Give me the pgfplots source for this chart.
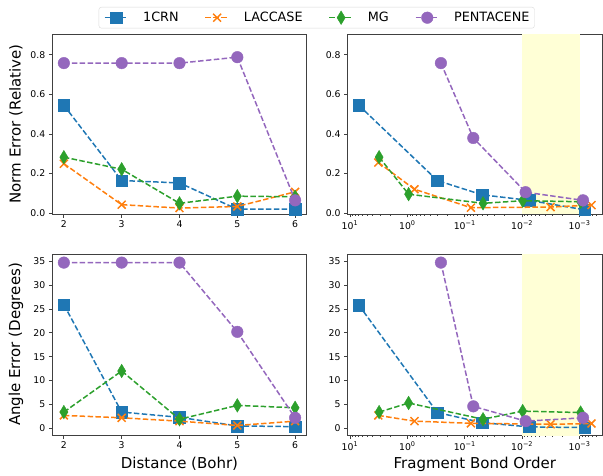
\documentclass[border=0pt]{standalone}
\usepackage{fontspec}
\setmainfont{DejaVu Sans}
\usepackage{pgfplots}
\pgfplotsset{compat=1.18}

\definecolor{c0}{HTML}{1F77B4}
\definecolor{c1}{HTML}{FF7F0E}
\definecolor{c2}{HTML}{2CA02C}
\definecolor{c4}{HTML}{9467BD}
\definecolor{band}{HTML}{FFFFD6}

\pgfplotsset{
  panel/.style={
    scale only axis, width=254.4pt,
    tick align=outside, tick pos=left,
    major tick length=3.5pt, minor tick length=2pt,
    axis line style={black!75, line width=0.9pt},
    tick style={black!75, line width=0.8pt},
    tick label style={font=\fontsize{9.3}{11}\selectfont},
    /pgf/number format/assume math mode=true,
    every axis y label/.style={at={(axis description cs:-0.143,0.5)}, rotate=90, anchor=center,
      font=\fontsize{15}{18}\selectfont},
    every axis x label/.style={at={(axis description cs:0.5,-0.16)}, anchor=center,
      font=\fontsize{15}{18}\selectfont},
    clip mode=individual,
    every axis plot/.append style={line width=1.5pt, dash pattern=on 5.5pt off 2.4pt},
    legend image code/.code={\draw[mark repeat=2,mark phase=2] plot coordinates {(0pt,0pt) (11.7pt,0pt) (23.4pt,0pt)};},
  },
  toprow/.style={height=180pt, ymin=-0.004, ymax=0.905, ytick={0,0.2,0.4,0.6,0.8},
    yticklabel style={/pgf/number format/.cd, fixed, fixed zerofill, precision=1}},
  botrow/.style={height=181pt, ymin=-1.4, ymax=36.5, ytick={0,5,10,15,20,25,30,35}},
  distx/.style={xmin=1.8, xmax=6.2, xtick={2,3,4,5,6}},
  bondx/.style={x dir=reverse, xmin=4.07e-4, xmax=10.97,
    xtick={10,1,0.1,0.01,0.001},
    xticklabels={10\textsuperscript{1},10\textsuperscript{0},10\textsuperscript{−1},10\textsuperscript{−2},10\textsuperscript{−3}},
    minor xtick={5e-4,6e-4,7e-4,8e-4,9e-4,2e-3,3e-3,4e-3,5e-3,6e-3,7e-3,8e-3,9e-3,2e-2,3e-2,4e-2,5e-2,6e-2,7e-2,8e-2,9e-2,0.2,0.3,0.4,0.5,0.6,0.7,0.8,0.9,2,3,4,5,6,7,8,9}},
  s0/.style={c0, mark=square*, mark size=5.8pt, mark options={solid, line width=0.4pt}},
  s1/.style={c1, mark=x, mark size=5.6pt, mark options={solid, line width=1.5pt}},
  s2/.style={c2, mark=diamond*, mark size=6.8pt, mark options={solid, line width=0.4pt, xscale=0.8}},
  s4/.style={c4, mark=*, mark size=5.8pt, mark options={solid, line width=0.4pt}},
}

\begin{document}
\begin{tikzpicture}
\useasboundingbox (0pt,0pt) rectangle (603pt,475pt);

% top left: norm error vs distance
\begin{axis}[panel, toprow, distx, at={(52.3pt,261pt)}, anchor=south west,
  ylabel={Norm Error (Relative)},
  legend columns=4,
  legend style={at={(1.0393,1.0906)}, anchor=center, draw=black!15, rounded corners=2.5pt,
    font=\fontsize{12.8}{15}\selectfont, inner xsep=5pt, inner ysep=3pt,
    nodes={inner xsep=0pt, inner ysep=2pt},
    /tikz/every odd column/.append style={column sep=14.3pt},
    /tikz/every even column/.append style={column sep=26pt}},
  legend cell align=left]
\addplot[s0] coordinates {(2,0.545) (3,0.165) (4,0.153) (5,0.020) (6,0.020)};
\addlegendentry{1CRN}
\addplot[s1] coordinates {(2,0.250) (3,0.043) (4,0.026) (5,0.034) (6,0.108)};
\addlegendentry{LACCASE}
\addplot[s2] coordinates {(2,0.283) (3,0.222) (4,0.050) (5,0.086) (6,0.083)};
\addlegendentry{MG}
\addplot[s4] coordinates {(2,0.758) (3,0.758) (4,0.758) (5,0.788) (6,0.065)};
\addlegendentry{PENTACENE}
\end{axis}

% top right: norm error vs fragment bond order
\begin{semilogxaxis}[panel, toprow, bondx, at={(347.6pt,261pt)}, anchor=south west]
\addplot[fill=band, draw=none, forget plot] coordinates {(0.01,-1) (0.001,-1) (0.001,2) (0.01,2)} -- cycle;
\addplot[s0] coordinates {(7.0,0.545) (0.30,0.165) (0.05,0.093) (0.0076,0.065) (0.00081,0.017)};
\addplot[s1] coordinates {(3.2,0.256) (0.75,0.121) (0.078,0.028) (0.0032,0.031) (0.00062,0.041)};
\addplot[s2] coordinates {(3.1,0.283) (0.95,0.096) (0.048,0.050) (0.0098,0.063) (0.00096,0.058)};
\addplot[s4] coordinates {(0.26,0.758) (0.071,0.380) (0.0087,0.106) (0.00087,0.065)};
\end{semilogxaxis}

% bottom left: angle error vs distance
\begin{axis}[panel, botrow, distx, at={(52.3pt,40pt)}, anchor=south west,
  ylabel={Angle Error (Degrees)}, xlabel={Distance (Bohr)}]
\addplot[s0] coordinates {(2,25.9) (3,3.4) (4,2.3) (5,0.5) (6,0.35)};
\addplot[s1] coordinates {(2,2.7) (3,2.2) (4,1.5) (5,0.6) (6,1.5)};
\addplot[s2] coordinates {(2,3.4) (3,12.0) (4,1.9) (5,4.8) (6,4.3)};
\addplot[s4] coordinates {(2,34.7) (3,34.7) (4,34.7) (5,20.2) (6,2.2)};
\end{axis}

% bottom right: angle error vs fragment bond order
\begin{semilogxaxis}[panel, botrow, bondx, at={(347.6pt,40pt)}, anchor=south west,
  xlabel={Fragment Bond Order}]
\addplot[fill=band, draw=none, forget plot] coordinates {(0.01,-10) (0.001,-10) (0.001,50) (0.01,50)} -- cycle;
\addplot[s0] coordinates {(7.0,25.8) (0.30,3.3) (0.05,1.2) (0.0076,0.3) (0.00081,0.15)};
\addplot[s1] coordinates {(3.2,2.7) (0.75,1.5) (0.078,1.05) (0.0032,0.85) (0.00062,1.0)};
\addplot[s2] coordinates {(3.1,3.4) (0.95,5.3) (0.048,1.9) (0.0098,3.6) (0.00096,3.3)};
\addplot[s4] coordinates {(0.26,34.7) (0.071,4.6) (0.0087,1.5) (0.00087,2.2)};
\end{semilogxaxis}
\end{tikzpicture}
\end{document}
